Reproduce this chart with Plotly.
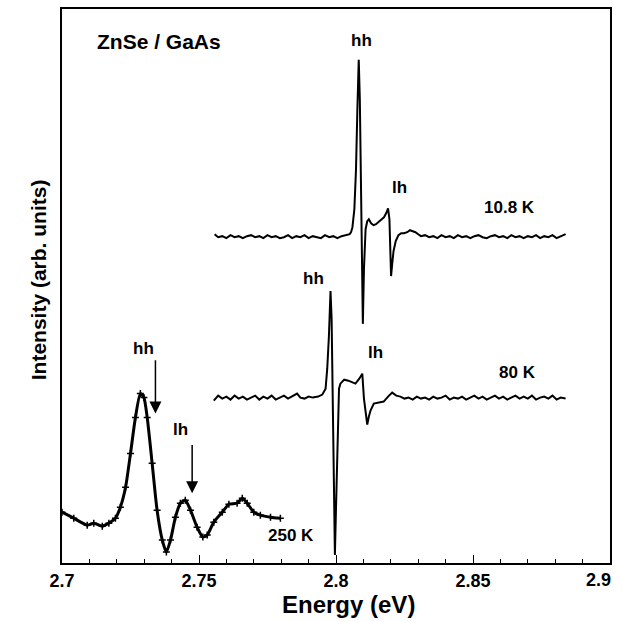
import plotly.graph_objects as go

# ---- data (arbitrary intensity units) ----
x_250 = [2.7000, 2.7043, 2.7092, 2.7116, 2.7147, 2.7171, 2.7195, 2.7213, 2.7232, 2.7250,
         2.7268, 2.7286, 2.7299, 2.7311, 2.7329, 2.7347, 2.7366, 2.7381, 2.7396, 2.7414,
         2.7432, 2.7450, 2.7469, 2.7493, 2.7514, 2.7530, 2.7554, 2.7585, 2.7609, 2.7639,
         2.7658, 2.7676, 2.7700, 2.7724, 2.7761, 2.7797]
y_250 = [56, 50, 43, 45, 42, 45, 50, 61, 81, 115,
         151, 175, 171, 151, 105, 58, 28, 16, 28, 51,
         65, 68, 58, 41, 31, 33, 46, 56, 64, 65,
         70, 65, 56, 53, 51, 50]

x_10 = [2.7557, 2.7570, 2.7585, 2.7600, 2.7615, 2.7630, 2.7645, 2.7660, 2.7675, 2.7690,
        2.7705, 2.7720, 2.7735, 2.7750, 2.7765, 2.7780, 2.7795, 2.7810, 2.7825, 2.7840,
        2.7855, 2.7870, 2.7885, 2.7900, 2.7915, 2.7930, 2.7945, 2.7960, 2.7975, 2.7990,
        2.8005, 2.8020, 2.8035, 2.8050,
        2.8055, 2.8060, 2.8067, 2.8073, 2.8078, 2.8083, 2.8087, 2.8091, 2.8095, 2.8098,
        2.8102, 2.8108, 2.8114, 2.8120, 2.8128, 2.8137, 2.8146, 2.8155, 2.8165, 2.8175,
        2.8183, 2.8190, 2.8195, 2.8198, 2.8201, 2.8205, 2.8210, 2.8218, 2.8228, 2.8238,
        2.8248, 2.8260, 2.8270, 2.8280, 2.8290, 2.8300, 2.8310,
        2.8325, 2.8340, 2.8355, 2.8370, 2.8385, 2.8400, 2.8415, 2.8430, 2.8445, 2.8460,
        2.8475, 2.8490, 2.8505, 2.8520, 2.8535, 2.8550, 2.8565, 2.8580, 2.8595, 2.8610,
        2.8625, 2.8640, 2.8655, 2.8670, 2.8685, 2.8700, 2.8715, 2.8730, 2.8745, 2.8760,
        2.8775, 2.8790, 2.8805, 2.8820, 2.8838]
y_10 = [335, 332, 333, 331, 334, 332, 333, 331, 333, 334,
        332, 333, 331, 334, 332, 333, 331, 332, 334, 331,
        333, 332, 334, 331, 333, 332, 331, 334, 332, 333,
        331, 333, 334, 335,
        337, 342, 360, 400, 460, 510, 470, 380, 300, 245,
        300, 340, 348, 350, 346, 344, 345, 347, 350, 352,
        356, 361, 350, 320, 293, 305, 318, 328, 334, 336,
        336, 337, 339, 338, 337, 335, 333,
        334, 332, 333, 331, 334, 332, 333, 331, 334, 332,
        333, 331, 333, 334, 332, 331, 333, 334, 332, 333,
        331, 334, 332, 333, 331, 333, 332, 334, 331, 333,
        332, 334, 331, 333, 335]

x_80 = [2.7554, 2.7570, 2.7585, 2.7600, 2.7615, 2.7630, 2.7645, 2.7660, 2.7675, 2.7690,
        2.7705, 2.7720, 2.7735, 2.7750, 2.7765, 2.7780, 2.7795, 2.7810, 2.7825, 2.7840,
        2.7858, 2.7870, 2.7885, 2.7900, 2.7915, 2.7935,
        2.7950, 2.7962, 2.7968, 2.7974, 2.7980, 2.7984, 2.7988, 2.7992, 2.7996, 2.8000,
        2.8005, 2.8011, 2.8016, 2.8030, 2.8045, 2.8060, 2.8071, 2.8085, 2.8096, 2.8102,
        2.8108, 2.8114, 2.8120, 2.8126, 2.8138, 2.8155, 2.8174, 2.8190, 2.8205, 2.8220,
        2.8235, 2.8250, 2.8265, 2.8280, 2.8295, 2.8310, 2.8325, 2.8340, 2.8355, 2.8370,
        2.8385, 2.8400, 2.8415, 2.8430, 2.8445, 2.8460, 2.8475, 2.8490, 2.8505, 2.8520,
        2.8535, 2.8550, 2.8565, 2.8580, 2.8595, 2.8610, 2.8625, 2.8640, 2.8655, 2.8670,
        2.8685, 2.8700, 2.8715, 2.8730, 2.8745, 2.8760, 2.8775, 2.8790, 2.8805, 2.8820,
        2.8838]
y_80 = [168, 173, 170, 172, 169, 173, 170, 172, 169, 171,
        173, 169, 172, 170, 173, 169, 171, 173, 170, 172,
        175, 171, 170, 172, 171, 172,
        174, 180, 200, 232, 278, 250, 150, 50, 13, 60,
        130, 180, 185, 189, 188, 186, 185, 190, 195, 170,
        155, 144, 152, 158, 165, 166, 167, 172, 176, 173,
        172, 170, 171, 169, 172, 170, 171, 169, 172, 170,
        171, 173, 169, 171, 170, 172, 169, 171, 173, 170,
        172, 169, 171, 173, 170, 172, 169, 171, 173, 170,
        172, 170, 173, 169, 171, 172, 170, 173, 169, 171,
        170]

x_ticks = [2.7, 2.75, 2.8, 2.85, 2.9]
x_tick_labels = ["2.7", "2.75", "2.8", "2.85", "2.9"]

FONT = "Liberation Sans, Arial, sans-serif"

fig = go.Figure()
fig.add_trace(go.Scatter(x=x_250, y=y_250, mode="lines+markers",
                         line=dict(color="black", width=3, shape="spline", smoothing=0.6),
                         marker=dict(symbol="cross-thin", size=5, line=dict(color="black", width=1.5)),
                         showlegend=False))
fig.add_trace(go.Scatter(x=x_10, y=y_10, mode="lines",
                         line=dict(color="black", width=2), showlegend=False))
fig.add_trace(go.Scatter(x=x_80, y=y_80, mode="lines",
                         line=dict(color="black", width=2), showlegend=False))

def label(x, y, text, size=17, xanchor="center"):
    fig.add_annotation(x=x, y=y, xref="x", yref="y", text="<b>%s</b>" % text,
                       showarrow=False, xanchor=xanchor, yanchor="middle",
                       font=dict(family=FONT, size=size, color="black"))

label(2.7297, 220, "hh")
label(2.7432, 139, "lh")
label(2.7834, 33, "250 K")
label(2.8093, 529, "hh")
label(2.8230, 382, "lh")
label(2.8632, 362, "10.8 K")
label(2.7917, 291, "hh")
label(2.8144, 216, "lh")
label(2.8662, 196, "80 K")
label(2.7122, 528, "ZnSe / GaAs", size=21, xanchor="left")

for xa, yt, yh in [(2.7341, 210, 155), (2.7475, 125, 75)]:
    fig.add_annotation(x=xa, y=yh, ax=xa, ay=yt, xref="x", yref="y", axref="x", ayref="y",
                       showarrow=True, arrowhead=2, arrowsize=1.6, arrowwidth=1.5,
                       arrowcolor="black", text="")

# last tick label sits at the right page edge: anchor it by its right side
fig.add_annotation(x=x_ticks[-1], y=-0.0306, xref="x", yref="paper",
                   text=x_tick_labels[-1], showarrow=False, xanchor="right", yanchor="middle",
                   xshift=3, font=dict(family=FONT, size=18, color="black", weight="bold"))

fig.add_annotation(x=-0.066, y=0.511, xref="paper", yref="paper",
                   text="<b>Intensity (arb. units)</b>", textangle=-90, showarrow=False,
                   font=dict(family=FONT, size=21, color="black"))
fig.add_annotation(x=0.523, y=-0.0755, xref="paper", yref="paper",
                   text="<b>Energy (eV)</b>", showarrow=False, yanchor="middle",
                   font=dict(family=FONT, size=24, color="black"))

fig.update_layout(width=622, height=621,
                  margin=dict(l=61.7, r=12, t=7, b=58),
                  paper_bgcolor="white", plot_bgcolor="white")
fig.update_xaxes(range=[2.7, 2.9], tickvals=x_ticks,
                 ticktext=x_tick_labels[:-1] + [""],
                 ticks="inside", ticklen=8, tickwidth=1.2, tickcolor="black",
                 minor=dict(dtick=0.01, ticks="inside", ticklen=4, tickcolor="black", tick0=2.7),
                 showline=True, linecolor="black", linewidth=2, mirror=True,
                 showgrid=False, zeroline=False,
                 tickfont=dict(family=FONT, size=18, color="black", weight="bold"))
fig.update_yaxes(range=[5, 561], showticklabels=False, ticks="",
                 showline=True, linecolor="black", linewidth=2, mirror=True,
                 showgrid=False, zeroline=False)

fig.write_html("out.html")
